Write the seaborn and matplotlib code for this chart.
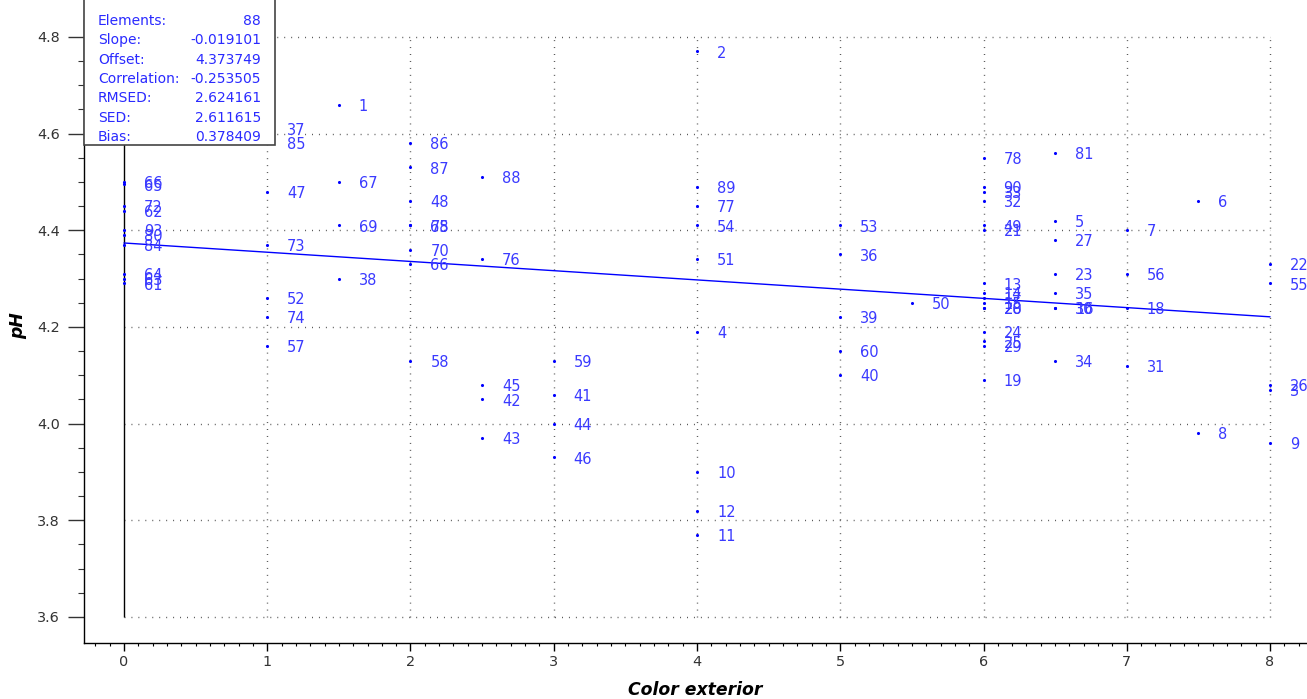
import matplotlib
matplotlib.use("Agg")
import matplotlib.pyplot as plt
from matplotlib.patches import Rectangle
from matplotlib.ticker import FixedLocator
import numpy as np
import pandas as pd
import seaborn as sns

# Sample identifiers, exterior colour score and measured pH
sample_ids = [
    "66", "65", "72", "62", "93", "80", "84", "64", "63", "61",
    "37", "85", "47", "73", "52", "74", "57",
    "1", "67", "69", "38",
    "86", "87", "48", "75", "68", "70", "66", "58",
    "88", "76", "45", "42", "43",
    "59", "41", "44", "46",
    "2", "89", "77", "54", "51", "4", "10", "12", "11",
    "53", "36", "39", "60", "40",
    "50",
    "78", "90", "33", "32", "49", "21", "13", "14", "17", "15", "20", "28",
    "24", "25", "29", "19",
    "81", "5", "27", "23", "35", "30", "16", "34",
    "7", "56", "18", "31",
    "6", "8",
    "22", "55", "26", "3", "9",
]
color_exterior = [
    0, 0, 0, 0, 0, 0, 0, 0, 0, 0,
    1, 1, 1, 1, 1, 1, 1,
    1.5, 1.5, 1.5, 1.5,
    2, 2, 2, 2, 2, 2, 2, 2,
    2.5, 2.5, 2.5, 2.5, 2.5,
    3, 3, 3, 3,
    4, 4, 4, 4, 4, 4, 4, 4, 4,
    5, 5, 5, 5, 5,
    5.5,
    6, 6, 6, 6, 6, 6, 6, 6, 6, 6, 6, 6,
    6, 6, 6, 6,
    6.5, 6.5, 6.5, 6.5, 6.5, 6.5, 6.5, 6.5,
    7, 7, 7, 7,
    7.5, 7.5,
    8, 8, 8, 8, 8,
]
ph_values = [
    4.50, 4.495, 4.45, 4.44, 4.40, 4.39, 4.37, 4.31, 4.30, 4.29,
    4.61, 4.58, 4.48, 4.37, 4.26, 4.22, 4.16,
    4.66, 4.50, 4.41, 4.30,
    4.58, 4.53, 4.46, 4.41, 4.41, 4.36, 4.33, 4.13,
    4.51, 4.34, 4.08, 4.05, 3.97,
    4.13, 4.06, 4.00, 3.93,
    4.77, 4.49, 4.45, 4.41, 4.34, 4.19, 3.90, 3.82, 3.77,
    4.41, 4.35, 4.22, 4.15, 4.10,
    4.25,
    4.55, 4.49, 4.48, 4.46, 4.41, 4.40, 4.29, 4.27, 4.26, 4.25, 4.24, 4.24,
    4.19, 4.17, 4.16, 4.09,
    4.56, 4.42, 4.38, 4.31, 4.27, 4.24, 4.24, 4.13,
    4.40, 4.31, 4.24, 4.12,
    4.46, 3.98,
    4.33, 4.29, 4.08, 4.07, 3.96,
]

# Regression summary
stat_names = ["Elements:", "Slope:", "Offset:", "Correlation:", "RMSED:", "SED:", "Bias:"]
stat_values = ["88", "-0.019101", "4.373749", "-0.253505", "2.624161", "2.611615", "0.378409"]
slope = -0.019101
offset = 4.373749

df = pd.DataFrame({"id": sample_ids, "Color exterior": color_exterior, "pH": ph_values})

sns.set_theme(style="white")
plt.rcParams["font.family"] = ["DejaVu Sans"]

W, H = 1307, 699
fig = plt.figure(figsize=(W / 100, H / 100), dpi=100)
ax_left, ax_right, ax_top, ax_bottom = 84, 1307, 8, 643
ax = fig.add_axes([ax_left / W, 1 - ax_bottom / H, (ax_right - ax_left) / W, (ax_bottom - ax_top) / H])

xmin, xmax = -0.279, 8.258
ymin, ymax = 3.546, 4.86
ax.set_xlim(xmin, xmax)
ax.set_ylim(ymin, ymax)

# Dotted grid limited to the data range
grid_kw = dict(color="#555555", lw=1.0, linestyles=(0, (0.7, 4.3)), zorder=1)
for xv in range(1, 9):
    ax.vlines(xv, 3.6, 4.8, **grid_kw)
for yv in np.arange(3.6, 4.81, 0.2):
    ax.hlines(yv, 0, 8, **grid_kw)
ax.vlines(0, 3.6, ymax, color="black", lw=1.0, zorder=2)

# Points and their sample numbers
sns.scatterplot(data=df, x="Color exterior", y="pH", ax=ax, color="blue",
                s=5, linewidth=0, zorder=4, legend=False)
for sid, xv, yv in zip(df["id"], df["Color exterior"], df["pH"]):
    ax.annotate(sid, (xv, yv), xytext=(14.4, -1.2), textcoords="offset points",
                ha="left", va="center", color="#3a3aff", fontsize=10.5,
                annotation_clip=False, zorder=5)

# Fitted line
line_x = np.array([0.0, 8.0])
sns.lineplot(x=line_x, y=offset + slope * line_x, ax=ax, color="blue", lw=1.0, zorder=3)

# Statistics box
box_w = (275 - ax_left) / (ax_right - ax_left)
box_h = (145 - ax_top) / (ax_bottom - ax_top)
ax.add_patch(Rectangle((0, 1 - box_h), box_w, box_h + 0.02, transform=ax.transAxes,
                       facecolor="white", edgecolor="#444444", lw=1.2, zorder=10,
                       clip_on=False))
for i, (name, val) in enumerate(zip(stat_names, stat_values)):
    py = 21 + 19.3 * i
    ya = (ax_bottom - py) / (ax_bottom - ax_top)
    ax.text((98 - ax_left) / (ax_right - ax_left), ya, name, transform=ax.transAxes,
            ha="left", va="center", color="#2a2aff", fontsize=10, zorder=11)
    ax.text((261 - ax_left) / (ax_right - ax_left), ya, val, transform=ax.transAxes,
            ha="right", va="center", color="#2a2aff", fontsize=10, zorder=11)

# Axes and ticks
for side in ("top", "right"):
    ax.spines[side].set_visible(False)
for side in ("left", "bottom"):
    ax.spines[side].set_color("black")
    ax.spines[side].set_linewidth(1.0)
ax.spines["left"].set_bounds(ymin, 4.835)

ax.set_xticks(range(0, 9))
ax.set_xticklabels([str(v) for v in range(0, 9)])
ax.xaxis.set_minor_locator(FixedLocator(np.round(np.arange(-0.2, 8.21, 0.1), 2)))
yt = np.round(np.arange(3.6, 4.81, 0.2), 1)
ax.set_yticks(yt)
ax.set_yticklabels([f"{v:.1f}" for v in yt])
ax.yaxis.set_minor_locator(FixedLocator(np.round(np.arange(3.6, 4.81, 0.05), 2)))

ax.tick_params(axis="x", which="major", direction="out", length=6, width=1,
               color="black", labelsize=10.4, labelcolor="#333333", pad=3, bottom=True)
ax.tick_params(axis="x", which="minor", direction="out", length=2.5, width=0.8,
               color="black", bottom=True)
ax.tick_params(axis="y", which="major", direction="out", length=11.5, width=1,
               color="#333333", labelsize=10.4, labelcolor="#333333", pad=6, left=True)
ax.tick_params(axis="y", which="minor", direction="out", length=4.5, width=0.8,
               color="#333333", left=True)

ax.set_xlabel("Color exterior", fontsize=12.4, fontweight="bold", fontstyle="italic",
              color="black", labelpad=8)
ax.set_ylabel("pH", fontsize=12.4, fontweight="bold", fontstyle="italic",
              color="black", labelpad=7)

fig.savefig("out.png", dpi=100)
